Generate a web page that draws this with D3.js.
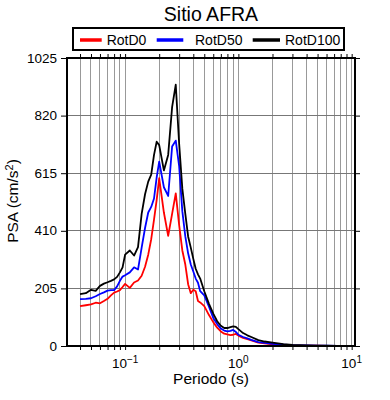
<!DOCTYPE html>
<html><head><meta charset="utf-8">
<script src="https://cdn.jsdelivr.net/npm/d3@7"></script>
<style>body{margin:0;background:#fff}svg{display:block;font-family:"Liberation Sans",Arial,sans-serif}</style>
</head><body><svg id="c" width="390" height="400"></svg>
<script>
const periods = [0.04,0.045,0.05,0.055,0.06,0.065,0.07,0.075,0.08,0.085,0.09,0.095,0.1,0.11,0.12,0.13,0.14,0.15,0.16,0.17,0.18,0.19,0.2,0.22,0.24,0.26,0.28,0.3,0.32,0.34,0.36,0.38,0.4,0.42,0.44,0.46,0.5,0.55,0.6,0.65,0.7,0.75,0.8,0.85,0.9,0.95,1.0,1.1,1.2,1.3,1.5,1.7,2.0,2.5,3.0,4.0,5.0,6.0,7.5,10];
const rotD0 = [142,145,148,154,152,160,168,180,190,194,199,210,221,207,226,233,250,282,325,380,450,520,597,475,392,470,543,430,340,290,220,188,200,195,160,155,142,110,85,65,52,44,41,39,40,43,37,29,24,20,12,9,6,4,2.5,1.5,1,0.8,0.5,0.3];
const rotD50 = [167,168,170,177,185,191,197,199,199,212,232,247,252,262,280,272,350,420,475,495,525,600,656,565,534,710,731,640,480,390,330,290,265,240,225,195,180,140,100,78,62,55,52,54,57,50,40,32,27,22,14,11,8,5,3,2,1.2,1,0.7,0.4];
const rotD100 = [185,188,200,196,214,222,227,232,237,246,262,280,325,340,322,352,470,540,585,610,680,727,715,625,680,850,930,720,560,470,390,350,310,275,255,240,195,150,115,88,72,64,64,67,70,68,60,46,38,32,21,16,12,7,4,2.5,1.5,1.2,0.8,0.5];
const seriesNames = ["RotD0","RotD50","RotD100"];
const seriesColors = ["#ff0000","#0000ff","#000000"];
const yTicks = [0,205,410,615,820,1025];
const xMajor = [0.1,1,10];
const xLabels = [{v:0.1,e:"\u22121"},{v:1,e:"0"},{v:10,e:"1"}];
const title = "Sitio AFRA";

const svg = d3.select("#c");
const L=67,R=355,T=58,B=346;
const x = d3.scaleLog().domain([0.0307,10.7]).range([L,R]);
const y = d3.scaleLinear().domain([0,1025]).range([B,T]);

// minor ticks
const allX = [];
for (let d=-2; d<=1; d++) for (let m=1;m<=9;m++){const v=m*Math.pow(10,d); if(v>=0.0307&&v<=10.7) allX.push(v);}
const minorX = allX.filter(v=>!xMajor.some(M=>Math.abs(M-v)<1e-9));

// grid
const g = svg.append("g");
g.selectAll("line.vg").data(allX).enter().append("line")
  .attr("x1",d=>x(d)).attr("x2",d=>x(d)).attr("y1",T).attr("y2",B)
  .attr("stroke","#999").attr("stroke-width",1).attr("shape-rendering","crispEdges");
g.selectAll("line.hg").data(yTicks.slice(1,-1)).enter().append("line")
  .attr("x1",L).attr("x2",R).attr("y1",d=>y(d)).attr("y2",d=>y(d))
  .attr("stroke","#777").attr("stroke-width",1).attr("shape-rendering","crispEdges");

// curves
const series=[rotD0,rotD50,rotD100];
const line = d3.line().x((d,i)=>x(periods[i])).y(d=>y(d));
series.forEach((s,k)=>{
  svg.append("path").datum(s).attr("d",line).attr("fill","none")
    .attr("stroke",seriesColors[k]).attr("stroke-width",1.8).attr("stroke-linejoin","round");
});

// axes via d3
const axB = d3.axisBottom(x).tickValues(allX).tickSize(4).tickFormat("");
const axT = d3.axisTop(x).tickValues(allX).tickSize(4).tickFormat("");
const axL = d3.axisLeft(y).tickValues(yTicks).tickSize(6).tickFormat("");
const axR = d3.axisRight(y).tickValues(yTicks).tickSize(5).tickFormat("");
[[axB,`translate(0,${B})`],[axT,`translate(0,${T})`],[axL,`translate(${L},0)`],[axR,`translate(${R},0)`]].forEach(([a,t])=>{
  const gg=svg.append("g").attr("transform",t).call(a);
  gg.select(".domain").remove();
  gg.selectAll("line").attr("stroke","#000").attr("stroke-width",1);
});
// frame
svg.append("rect").attr("x",L).attr("y",T).attr("width",R-L).attr("height",B-T)
  .attr("fill","none").attr("stroke","#000").attr("stroke-width",2);

// y tick labels
svg.selectAll("text.yl").data(yTicks).enter().append("text")
  .attr("x",57).attr("y",d=>y(d)+4.5).attr("text-anchor","end").attr("font-size",13.5).text(d=>d);
// x tick labels
xLabels.forEach(l=>{
  const t=svg.append("text").attr("x",x(l.v)).attr("y",368).attr("text-anchor","middle").attr("font-size",13.5);
  t.append("tspan").text("10");
  t.append("tspan").attr("dy",-5).attr("font-size",10).text(l.e);
});
// axis titles
svg.append("text").attr("x",211).attr("y",384).attr("text-anchor","middle").attr("font-size",15.5).text("Periodo (s)");
const yt=svg.append("text").attr("transform","translate(18,201) rotate(-90)").attr("text-anchor","middle").attr("font-size",15.5);
yt.append("tspan").text("PSA (cm/s");
yt.append("tspan").attr("dy",-5).attr("font-size",11).text("2");
yt.append("tspan").attr("dy",5).text(")");
// title
svg.append("text").attr("x",211).attr("y",21).attr("text-anchor","middle").attr("font-size",19.5).text(title);
// legend
svg.append("rect").attr("x",73).attr("y",28).attr("width",271).attr("height",22).attr("fill","#fff").attr("stroke","#000").attr("stroke-width",2);
const lx=[[80,101.7,106.7],[156.7,183.3,195],[252.7,280,285]];
seriesNames.forEach((n,k)=>{
  svg.append("line").attr("x1",lx[k][0]).attr("x2",lx[k][1]).attr("y1",40).attr("y2",40).attr("stroke",seriesColors[k]).attr("stroke-width",3.5);
  svg.append("text").attr("x",lx[k][2]).attr("y",45).attr("font-size",14).text(n);
});
</script></body></html>
